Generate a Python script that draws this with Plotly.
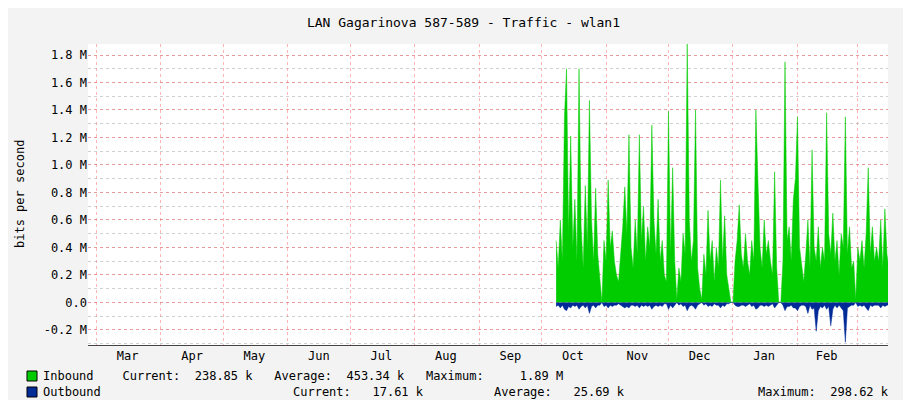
import pandas as pd
import plotly.graph_objects as go

# daily samples starting Oct 8, values in M bits/s
start = "2023-10-08"
inbound = [
    0.45, 0.25, 0.6, 0.3, 1.35, 1.7, 0.5,
    1.21, 0.4, 0.75, 0.3, 1.7, 0.55, 0.25,
    0.85, 0.4, 1.47, 0.6, 0.3, 0.83, 0.35,
    0.15, 0.0, 0.45, 0.3, 0.89, 0.4, 0.52,
    0.3, 0.2, 0.15, 0.35, 0.55, 0.84, 0.5,
    1.22, 0.4, 0.25, 0.6, 0.35, 1.22, 0.45,
    0.7, 0.3, 0.55, 0.4, 1.29, 0.6, 0.35,
    0.75, 0.3, 0.45, 0.2, 0.15, 1.39, 0.35,
    0.98, 0.3, 0.02, 0.25, 0.15, 0.5, 0.35,
    1.89, 0.6, 0.3, 0.45, 1.4, 0.25, 0.1,
    0.02, 0.35, 0.2, 0.67, 0.3, 0.45, 0.15,
    0.4, 0.25, 0.89, 0.3, 0.63, 0.2, 0.1,
    0.0, 0.0, 0.3, 0.45, 0.71, 0.35, 0.25,
    0.5, 0.3, 0.2, 0.45, 0.3, 1.4, 0.88,
    0.4, 0.25, 0.6, 0.35, 0.45, 0.3, 0.2,
    0.95, 0.25, 0.0, 0.0, 0.3, 1.75, 0.45,
    0.55, 0.3, 0.75, 0.9, 1.35, 0.4, 0.25,
    0.15, 0.35, 0.6, 0.25, 1.11, 0.4, 0.3,
    0.55, 0.25, 0.4, 0.3, 1.38, 0.5, 0.35,
    0.65, 0.3, 0.45, 0.2, 0.5, 0.4, 1.35,
    0.35, 0.55, 0.25, 0.3, 0.02, 0.4, 0.3,
    0.45, 0.25, 0.5, 0.98, 0.35, 0.55, 0.3,
    0.4, 0.3, 0.6, 0.25, 0.68, 0.35, 0.24,
]
outbound = [
    -0.03, -0.02, -0.04, -0.02, -0.05, -0.06, -0.03,
    -0.04, -0.02, -0.03, -0.02, -0.05, -0.03, -0.02,
    -0.04, -0.02, -0.08, -0.03, -0.02, -0.04, -0.02,
    -0.02, 0.0, -0.03, -0.02, -0.04, -0.02, -0.03,
    -0.02, -0.02, -0.01, -0.02, -0.03, -0.04, -0.03,
    -0.04, -0.02, -0.02, -0.03, -0.02, -0.04, -0.02,
    -0.03, -0.02, -0.03, -0.02, -0.05, -0.03, -0.02,
    -0.03, -0.02, -0.03, -0.01, -0.01, -0.05, -0.02,
    -0.04, -0.02, 0.0, -0.02, -0.01, -0.03, -0.02,
    -0.06, -0.03, -0.02, -0.03, -0.05, -0.02, -0.01,
    0.0, -0.02, -0.01, -0.03, -0.02, -0.03, -0.01,
    -0.02, -0.02, -0.04, -0.02, -0.03, -0.01, -0.01,
    0.0, 0.0, -0.02, -0.03, -0.03, -0.02, -0.02,
    -0.03, -0.02, -0.01, -0.03, -0.02, -0.05, -0.04,
    -0.02, -0.02, -0.03, -0.02, -0.03, -0.02, -0.01,
    -0.04, -0.02, 0.0, 0.0, -0.02, -0.06, -0.03,
    -0.03, -0.02, -0.04, -0.04, -0.06, -0.03, -0.02,
    -0.02, -0.03, -0.08, -0.02, -0.05, -0.04, -0.21,
    -0.06, -0.03, -0.04, -0.02, -0.05, -0.03, -0.17,
    -0.05, -0.02, -0.04, -0.02, -0.04, -0.06, -0.29,
    -0.04, -0.03, -0.02, -0.02, 0.0, -0.03, -0.02,
    -0.03, -0.02, -0.04, -0.06, -0.02, -0.03, -0.02,
    -0.02, -0.02, -0.04, -0.02, -0.03, -0.02, -0.018,
]
dates = pd.date_range(start, periods=len(inbound), freq="D")

month_labels = ["Mar", "Apr", "May", "Jun", "Jul", "Aug", "Sep",
                "Oct", "Nov", "Dec", "Jan", "Feb"]
month_mids = ["2023-03-16", "2023-04-16", "2023-05-16", "2023-06-16",
              "2023-07-16", "2023-08-16", "2023-09-16", "2023-10-16",
              "2023-11-16", "2023-12-16", "2024-01-16", "2024-02-15"]

ytickvals = [-0.2, 0.0, 0.2, 0.4, 0.6, 0.8, 1.0, 1.2, 1.4, 1.6, 1.8]
yticktext = ["-0.2 M", "0.0", "0.2 M", "0.4 M", "0.6 M", "0.8 M", "1.0 M",
             "1.2 M", "1.4 M", "1.6 M", "1.8 M"]

mono = "DejaVu Sans Mono"

fig = go.Figure()
fig.add_trace(go.Scatter(x=dates, y=inbound, fill="tozeroy", mode="lines",
                         line=dict(color="#00CC00", width=0.5),
                         fillcolor="#00CC00", name="Inbound"))
fig.add_trace(go.Scatter(x=dates, y=outbound, fill="tozeroy", mode="lines",
                         line=dict(color="#002A97", width=0.5),
                         fillcolor="#002A97", name="Outbound"))

fig.update_layout(
    width=911, height=400,
    margin=dict(l=80, r=31, t=36, b=63, autoexpand=False),
    paper_bgcolor="#F3F3F3", plot_bgcolor="white",
    showlegend=False,
    font=dict(family=mono, size=12, color="black"),
    title=dict(text="LAN Gagarinova 587-589 - Traffic - wlan1",
               x=0.5, xanchor="center", y=0.975, font=dict(size=13)),
    xaxis=dict(type="date", range=["2023-02-25", "2024-03-15 12:00"],
               tickvals=month_mids, ticktext=month_labels, showgrid=False,
               minor=dict(dtick="M1", tick0="2023-03-01", showgrid=True,
                          gridcolor="rgba(255,90,90,0.45)", griddash="dot"),
               showline=True, linecolor="#444", ticks="", zeroline=False,
               automargin=False, tickfont=dict(size=12)),
    yaxis=dict(range=[-0.31, 1.88], tickvals=ytickvals, ticktext=yticktext,
               showgrid=True, gridcolor="rgba(255,90,90,0.45)", griddash="dot",
               zeroline=False, showline=False, ticks="", automargin=False,
               minor=dict(dtick=0.1, tick0=0, showgrid=True,
                          gridcolor="rgba(150,150,150,0.45)", griddash="dot"),
               tickfont=dict(size=12)),
)

def px(x):
    return (x - 80) / 800.0

def py(y):
    return (337 - y) / 301.0

fig.add_annotation(x=px(12), y=py(186), xref="paper", yref="paper",
                   text="bits per second", textangle=-90, showarrow=False,
                   xanchor="center", yanchor="middle", font=dict(size=12))

legend_rows = [
    (368, "#00CC00", [(33, "Inbound    Current:  238.85 k   Average:  453.34 k   Maximum:     1.89 M")]),
    (384, "#002A97", [(33, "Outbound"), (283, "Current:   17.61 k"),
                      (484, "Average:   25.69 k"), (748, "Maximum:  298.62 k")]),
]
for y, col, items in legend_rows:
    fig.add_shape(type="rect", xref="paper", yref="paper",
                  x0=px(19), x1=px(29), y0=py(y + 5), y1=py(y - 5),
                  fillcolor=col, line=dict(color="black", width=1))
    for x, txt in items:
        fig.add_annotation(x=px(x), y=py(y), xref="paper", yref="paper",
                           text=txt.replace(" ", "&nbsp;"), showarrow=False,
                           xanchor="left", yanchor="middle",
                           font=dict(family=mono, size=12))

fig.add_annotation(x=px(902), y=py(10), xref="paper", yref="paper",
                   text="RRDTOOL / TOBI OETIKER", textangle=90, showarrow=False,
                   xanchor="center", yanchor="top",
                   font=dict(family=mono, size=7, color="#999"))

fig.write_html("out.html")
